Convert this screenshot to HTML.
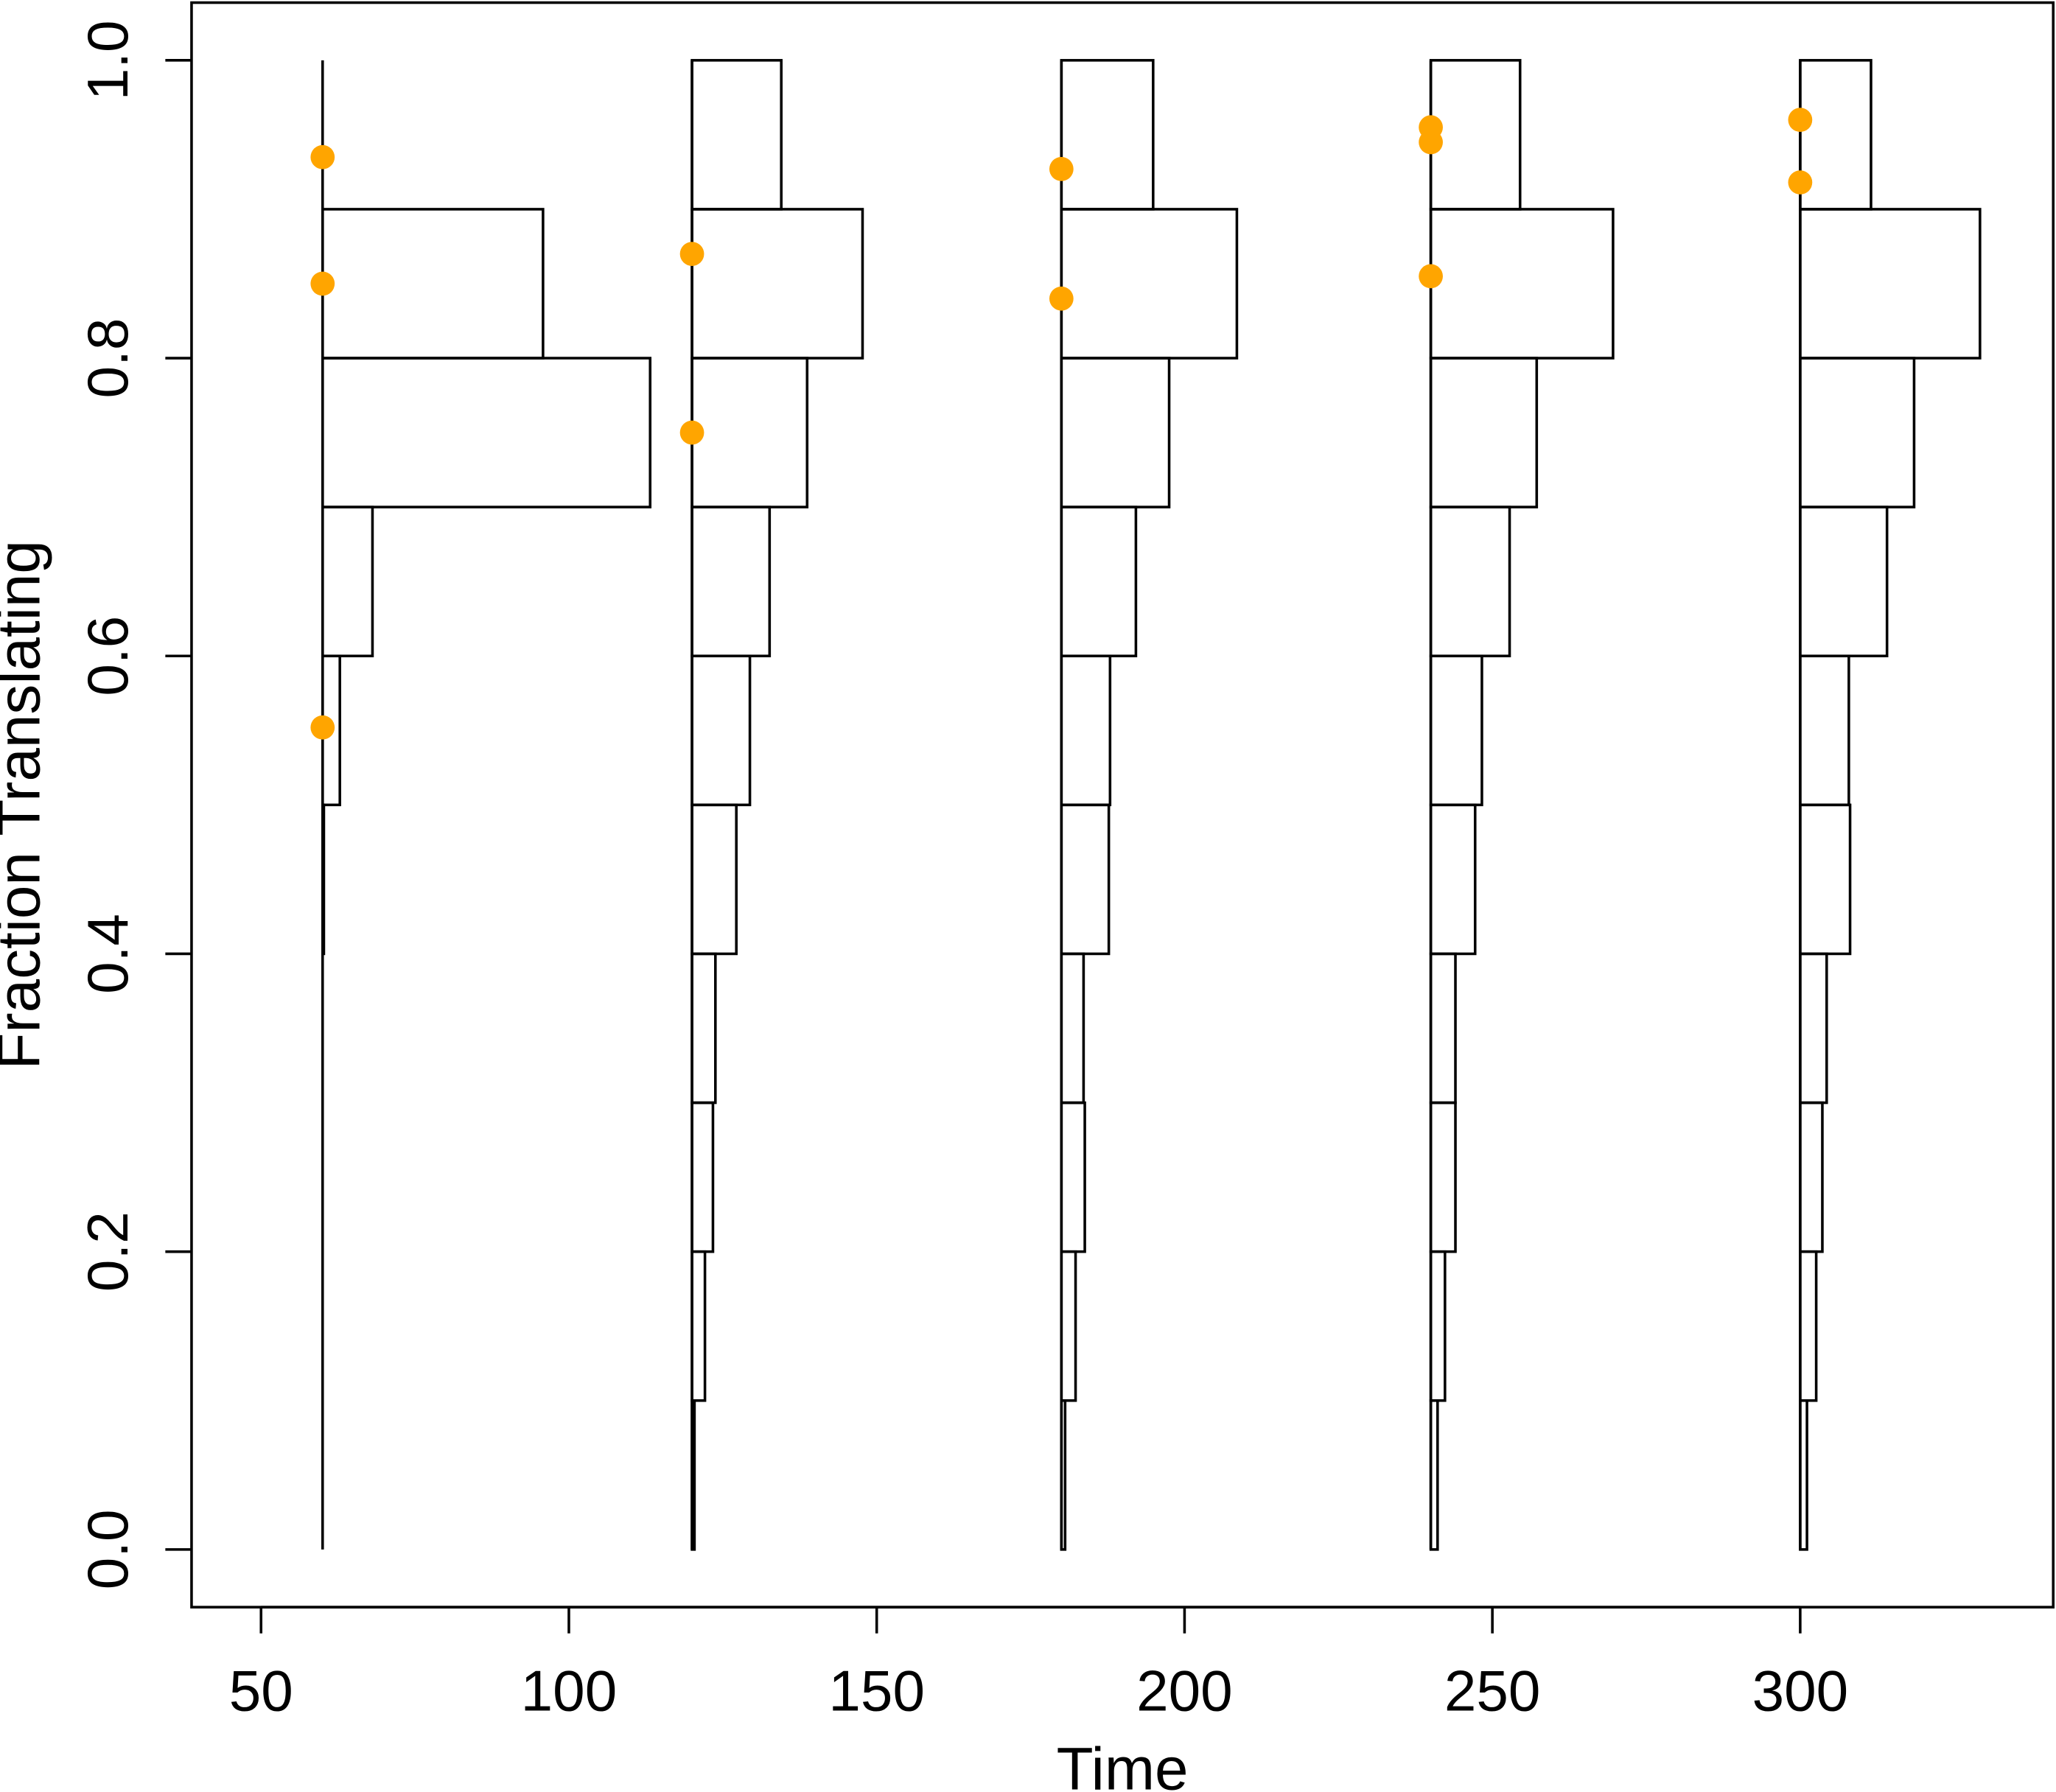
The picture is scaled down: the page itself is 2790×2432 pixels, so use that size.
<!DOCTYPE html>
<html><head><meta charset="utf-8"><style>html,body{margin:0;padding:0;background:#fff}svg{display:block}text{font-family:"Liberation Sans",Arial,sans-serif;fill:#000}</style></head>
<body>
<svg id="chart" width="2790" height="2432" viewBox="0 0 1568 1367" xmlns="http://www.w3.org/2000/svg">
<rect x="146" y="2" width="1420" height="1224" fill="none" stroke="#000" stroke-width="2"/>
<g id="marks"></g>
<g id="axes"></g>
<text x="856" y="1365" font-size="46" text-anchor="middle">Time</text>
<text transform="translate(30,614) rotate(-90)" font-size="46" text-anchor="middle">Fraction Translating</text>
</svg>
<script>
const times = [60, 120, 180, 240, 300];
const binEdges = [0,0.1,0.2,0.3,0.4,0.5,0.6,0.7,0.8,0.9,1.0];
const widths60 = [0,0,0,0,0.2,2.8,8.1,53.2,35.8,0];
const widths120 = [0.4,2.1,3.4,3.8,7.2,9.4,12.6,18.7,27.7,14.5];
const widths180 = [0.6,2.3,3.8,3.6,7.7,7.9,12.1,17.5,28.5,14.9];
const widths240 = [1.1,2.3,4.0,4.0,7.2,8.3,12.8,17.2,29.6,14.5];
const widths300 = [1.1,2.6,3.6,4.3,8.1,7.9,14.1,18.5,29.2,11.5];
const pointTimes = [60,60,60,120,120,180,180,240,240,240,300,300];
const pointValues = [0.935,0.85,0.552,0.87,0.75,0.927,0.84,0.955,0.945,0.855,0.96,0.918];
const xTicks = [50,100,150,200,250,300];
const yTicks = [0,0.2,0.4,0.6,0.8,1.0];
const yTickLabels = ["0.0","0.2","0.4","0.6","0.8","1.0"];

const ns = "http://www.w3.org/2000/svg";
const x = v => 199 + (v - 50) * (1174 / 250);
const y = v => 1182 - v * 1136;
const marks = document.getElementById('marks');
const axes = document.getElementById('axes');
function mk(tag, attrs, parent) {
  const e = document.createElementNS(ns, tag);
  for (const k in attrs) e.setAttribute(k, attrs[k]);
  parent.appendChild(e);
  return e;
}
const allWidths = [widths60, widths120, widths180, widths240, widths300];
times.forEach((t, gi) => {
  const ln = mk('line', {x1: x(t), x2: x(t), y1: y(0), y2: y(1), stroke: '#000', 'stroke-width': 2}, marks);
  
  
  allWidths[gi].forEach((w, i) => {
    if (w <= 0) return;
    const r = mk('rect', {x: x(t), y: y(binEdges[i+1]), width: x(t + w) - x(t), height: y(binEdges[i]) - y(binEdges[i+1]), fill: 'none', stroke: '#000', 'stroke-width': 2}, marks);
    
    
  });
});
pointTimes.forEach((t, i) => {
  const c = mk('circle', {cx: x(t), cy: y(pointValues[i]), r: 9.2, fill: '#FFA500'}, marks);
  
  
});
mk('line', {x1: x(50), x2: x(300), y1: 1226, y2: 1226, stroke: '#000', 'stroke-width': 2}, axes);
xTicks.forEach(v => {
  mk('line', {x1: x(v), x2: x(v), y1: 1226, y2: 1246, stroke: '#000', 'stroke-width': 2}, axes);
  const tx = mk('text', {x: x(v), y: 1305, 'font-size': 44, 'text-anchor': 'middle'}, axes);
  tx.textContent = v;
  
  
});
yTicks.forEach((v, i) => {
  mk('line', {x1: 146, x2: 126, y1: y(v), y2: y(v), stroke: '#000', 'stroke-width': 2}, axes);
  const tx = mk('text', {transform: 'translate(97,' + y(v) + ') rotate(-90)', 'font-size': 44, 'text-anchor': 'middle'}, axes);
  tx.textContent = yTickLabels[i];
  
  
});
</script>
</body></html>
